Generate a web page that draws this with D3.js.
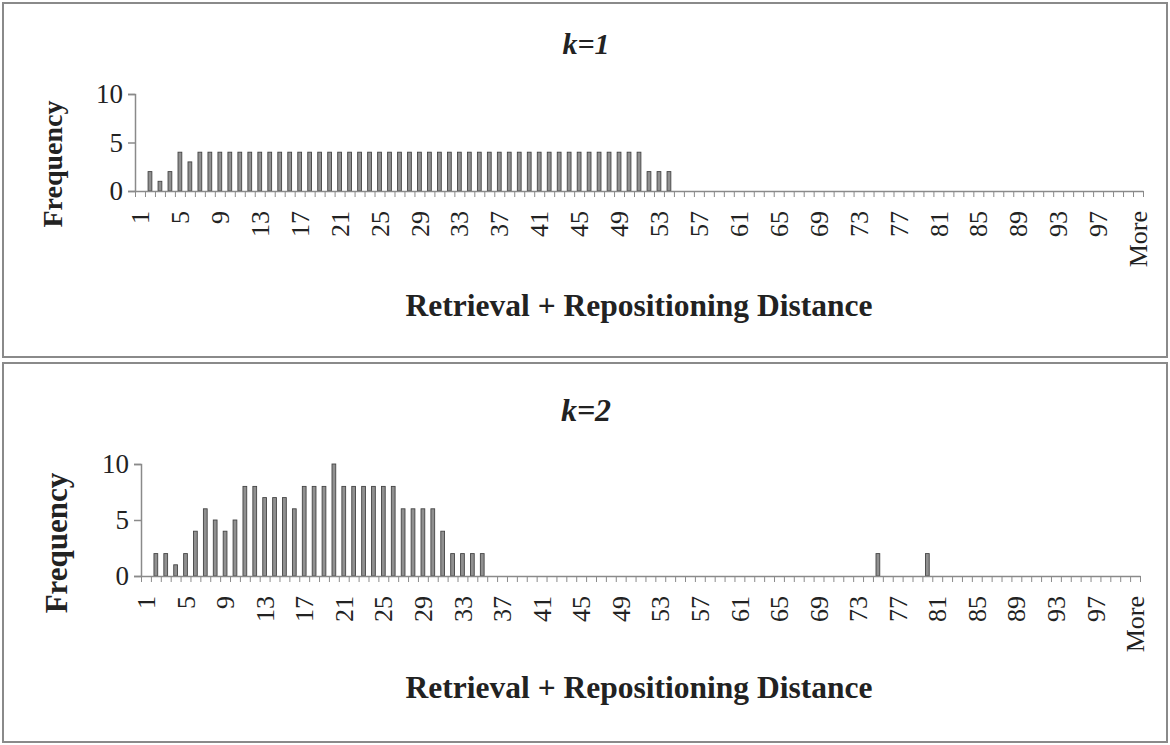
<!DOCTYPE html>
<html>
<head>
<meta charset="utf-8">
<script src="https://cdn.jsdelivr.net/npm/d3@7"></script>
<style>
  body { margin: 0; background: #fff; }
  text { font-family: "Liberation Serif", "Times New Roman", serif; fill: #222; }
</style>
</head>
<body>
<div id="content"></div>
<script>
// categories of the histogram: 1..100 then "More"
const categories = ["1","2","3","4","5","6","7","8","9","10","11","12","13","14","15","16","17","18","19","20",
  "21","22","23","24","25","26","27","28","29","30","31","32","33","34","35","36","37","38","39","40",
  "41","42","43","44","45","46","47","48","49","50","51","52","53","54","55","56","57","58","59","60",
  "61","62","63","64","65","66","67","68","69","70","71","72","73","74","75","76","77","78","79","80",
  "81","82","83","84","85","86","87","88","89","90","91","92","93","94","95","96","97","98","99","100","More"];

const tickLabels = ["1","5","9","13","17","21","25","29","33","37","41","45","49","53","57","61","65",
  "69","73","77","81","85","89","93","97","More"];

// frequencies, k=1
const freqK1 = [0,2,1,2,4,3,4,4,4,4, 4,4,4,4,4,4,4,4,4,4, 4,4,4,4,4,4,4,4,4,4,
  4,4,4,4,4,4,4,4,4,4, 4,4,4,4,4,4,4,4,4,4, 4,2,2,2,0,0,0,0,0,0,
  0,0,0,0,0,0,0,0,0,0, 0,0,0,0,0,0,0,0,0,0, 0,0,0,0,0,0,0,0,0,0, 0,0,0,0,0,0,0,0,0,0, 0];

// frequencies, k=2
const freqK2 = [0,2,2,1,2,4,6,5,4,5, 8,8,7,7,7,6,8,8,8,10, 8,8,8,8,8,8,6,6,6,6,
  4,2,2,2,2,0,0,0,0,0, 0,0,0,0,0,0,0,0,0,0, 0,0,0,0,0,0,0,0,0,0,
  0,0,0,0,0,0,0,0,0,0, 0,0,0,0,2,0,0,0,0,2, 0,0,0,0,0,0,0,0,0,0, 0,0,0,0,0,0,0,0,0,0, 0];

const yTicks = [0, 5, 10];

const W = 1170, H = 745;
const svg = d3.select("#content").append("svg")
  .attr("width", W).attr("height", H);

const panels = [
  { title: "k=1", values: freqK1, titleSize: 30,
    box: { x: 3, y: 3, w: 1164, h: 354 },
    left: 135, right: 1143, bottom: 191, top: 94,
    titleY: 54, xTitleY: 316, freqY: 164, freqX: 62, freqSize: 28 },
  { title: "k=2", values: freqK2, titleSize: 32,
    box: { x: 3, y: 363, w: 1164, h: 379 },
    left: 141, right: 1140, bottom: 576, top: 464,
    titleY: 421, xTitleY: 698, freqY: 543, freqX: 67, freqSize: 31 }
];

panels.forEach(p => {
  const g = svg.append("g");

  // panel frame
  g.append("rect")
    .attr("x", p.box.x).attr("y", p.box.y)
    .attr("width", p.box.w).attr("height", p.box.h)
    .attr("fill", "#fff")
    .attr("stroke", "#8a8a8a")
    .attr("stroke-width", 2);

  const x = d3.scaleBand()
    .domain(categories)
    .range([p.left, p.right])
    .paddingInner(0.62)
    .paddingOuter(0.31);

  // boundary ticks between categories
  const xEdge = d3.scaleLinear()
    .domain([0, categories.length])
    .range([p.left, p.right]);

  const y = d3.scaleLinear()
    .domain([0, 10])
    .range([p.bottom, p.top]);

  // bars
  g.append("g")
    .selectAll("rect")
    .data(p.values)
    .join("rect")
    .attr("x", (d, i) => x(categories[i]))
    .attr("y", d => y(d))
    .attr("width", x.bandwidth())
    .attr("height", d => y(0) - y(d))
    .attr("fill", "#909090")
    .attr("stroke", "#444")
    .attr("stroke-width", 0.9);

  // y axis
  const yAxis = g.append("g")
    .attr("transform", `translate(${p.left},0)`)
    .call(d3.axisLeft(y).tickValues(yTicks).tickSize(7).tickPadding(5));
  yAxis.select(".domain").attr("stroke", "#8a8a8a").attr("stroke-width", 1.5);
  yAxis.selectAll(".tick line").attr("stroke", "#8a8a8a").attr("stroke-width", 1.5);
  yAxis.selectAll(".tick text")
    .style("font-family", "'Liberation Serif', serif")
    .style("font-size", "27px")
    .attr("fill", "#333");

  // x axis: line and boundary ticks
  const xTickAxis = g.append("g")
    .attr("transform", `translate(0,${p.bottom})`)
    .call(d3.axisBottom(xEdge).tickValues(d3.range(0, categories.length + 1))
      .tickSize(6).tickSizeOuter(0).tickFormat(""));
  xTickAxis.select(".domain").attr("stroke", "#8a8a8a").attr("stroke-width", 1.5);
  xTickAxis.selectAll(".tick line").attr("stroke", "#8a8a8a").attr("stroke-width", 1);

  // x axis labels, rotated
  const xLabelAxis = g.append("g")
    .attr("transform", `translate(0,${p.bottom})`)
    .call(d3.axisBottom(x).tickValues(tickLabels).tickSize(0));
  xLabelAxis.select(".domain").remove();
  xLabelAxis.selectAll(".tick text")
    .style("font-family", "'Liberation Serif', serif")
    .style("font-size", "26px")
    .attr("fill", "#333")
    .attr("text-anchor", "end")
    .attr("transform", "rotate(-90)")
    .attr("x", -20)
    .attr("y", 0)
    .attr("dy", "0.35em");

  // chart title
  g.append("text")
    .text(p.title)
    .attr("x", 586).attr("y", p.titleY)
    .attr("text-anchor", "middle")
    .style("font-size", p.titleSize + "px")
    .style("font-weight", "bold")
    .style("font-style", "italic");

  // x title
  g.append("text")
    .text("Retrieval + Repositioning Distance")
    .attr("x", 639).attr("y", p.xTitleY)
    .attr("text-anchor", "middle")
    .style("font-size", "31.5px")
    .style("font-weight", "bold");

  // y title
  g.append("text")
    .text("Frequency")
    .attr("transform", `translate(${p.freqX}, ${p.freqY}) rotate(-90)`)
    .attr("text-anchor", "middle")
    .style("font-size", p.freqSize + "px")
    .style("font-weight", "bold");
});
</script>
</body>
</html>
